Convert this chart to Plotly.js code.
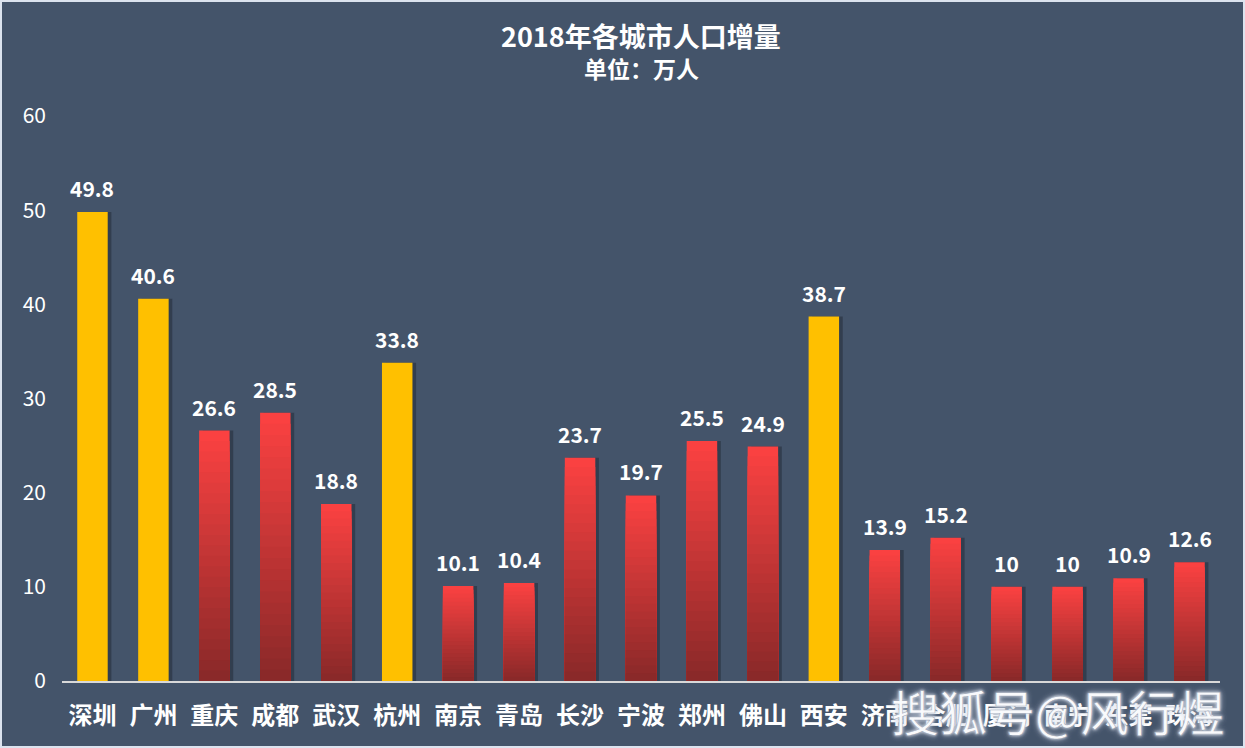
<!DOCTYPE html>
<html>
<head>
<meta charset="utf-8">
<script src="https://cdn.plot.ly/plotly-3.0.1.min.js"></script>
<style>
html,body{margin:0;padding:0;background:#DCE3EE;}
#chart{position:absolute;left:2px;top:2px;width:1241px;height:744px;}
</style>
</head>
<body>
<div id="chart"></div>
<script>
const cities = ['深圳','广州','重庆','成都','武汉','杭州','南京','青岛','长沙','宁波','郑州','佛山','西安','济南','合肥','厦门','南宁','东莞','珠海'];
const values = [49.8, 40.6, 26.6, 28.5, 18.8, 33.8, 10.1, 10.4, 23.7, 19.7, 25.5, 24.9, 38.7, 13.9, 15.2, 10, 10, 10.9, 12.6];
const highlighted = ['深圳','广州','杭州','西安'];
const yTicks = [0, 10, 20, 30, 40, 50, 60];

const FONT = '"Noto Sans CJK SC", "Noto Sans", sans-serif';
const isHi = cities.map(c => highlighted.includes(c));

const traces = [];
// shadow
traces.push({
  type: 'bar', x: cities, y: values, width: 0.5, offset: -0.25 + 0.06,
  marker: {color: 'rgba(25,30,40,0.4)', line: {width: 0}},
  hoverinfo: 'skip'
});
// gradient via overlaid bars
const N = 24;
const gradTop = [252, 66, 66], gradBot = [136, 40, 40];
function lerpColor(f) {
  return 'rgb(' + gradTop.map((t, j) => Math.round(gradBot[j] + (t - gradBot[j]) * f)).join(',') + ')';
}
for (let k = N; k >= 1; k--) {
  const f = k / N;
  traces.push({
    type: 'bar', x: cities,
    y: values.map((v, i) => isHi[i] ? (k === N ? v : null) : v * f),
    width: 0.5,
    marker: {color: values.map((v, i) => isHi[i] ? '#FFC000' : lerpColor((k - 0.5) / N)), line: {width: 0}},
    hoverinfo: 'skip'
  });
}

const annotations = cities.map((c, i) => ({
  x: c, y: values[i], xref: 'x', yref: 'y', text: String(values[i]),
  showarrow: false, yanchor: 'bottom', yshift: 7,
  font: {family: FONT, size: 21, color: '#FFFFFF', weight: 'bold'}
}));
annotations.push({
  xref: 'paper', yref: 'paper', x: 0.5, y: 1, yshift: 81, yanchor: 'middle',
  text: '<b>2018年各城市人口增量</b>', showarrow: false,
  font: {family: FONT, size: 27, color: '#FFFFFF'}
});
annotations.push({
  xref: 'paper', yref: 'paper', x: 0.5, y: 1, yshift: 48, yanchor: 'middle',
  text: '<b>单位：万人</b>', showarrow: false,
  font: {family: FONT, size: 23, color: '#FFFFFF'}
});
annotations.push({
  xref: 'paper', yref: 'paper', x: 1, xshift: 6, xanchor: 'right', y: 0, yshift: -29, yanchor: 'middle',
  text: '搜狐号@风行煜', showarrow: false,
  font: {family: FONT, size: 48, color: '#FFFFFF'}
});

const layout = {
  width: 1241, height: 744,
  paper_bgcolor: '#44546A', plot_bgcolor: '#44546A',
  margin: {l: 60, r: 23, t: 114, b: 65},
  barmode: 'overlay', bargap: 0.5,
  showlegend: false, hovermode: false,
  xaxis: {
    type: 'category', categoryorder: 'array', categoryarray: cities,
    showline: true, linecolor: '#D9D9D9', linewidth: 2,
    ticks: '', ticklabelstandoff: 12,
    tickfont: {family: FONT, size: 24, color: '#FFFFFF', weight: 'bold'},
    showgrid: false, zeroline: false, fixedrange: true
  },
  yaxis: {
    range: [0, 60], tickvals: yTicks, ticktext: yTicks.map(String),
    showgrid: false, zeroline: false, showline: false, ticks: '',
    ticklabelstandoff: 15,
    tickfont: {family: FONT, size: 21, color: '#FFFFFF'},
    fixedrange: true
  },
  annotations: annotations
};

Plotly.newPlot('chart', traces, layout, {displayModeBar: false, staticPlot: true}).then(gd => {
  const texts = gd.querySelectorAll('.annotation-text');
  const wm = texts[texts.length - 1];
  if (wm) {
    wm.style.textShadow = '0 0 3px rgba(230,235,245,0.9), 0 0 6px rgba(200,210,225,0.8)';
    wm.style.stroke = 'rgba(120,130,150,0.6)';
    wm.style.strokeWidth = '0.6px';
  }
});
</script>
</body>
</html>
